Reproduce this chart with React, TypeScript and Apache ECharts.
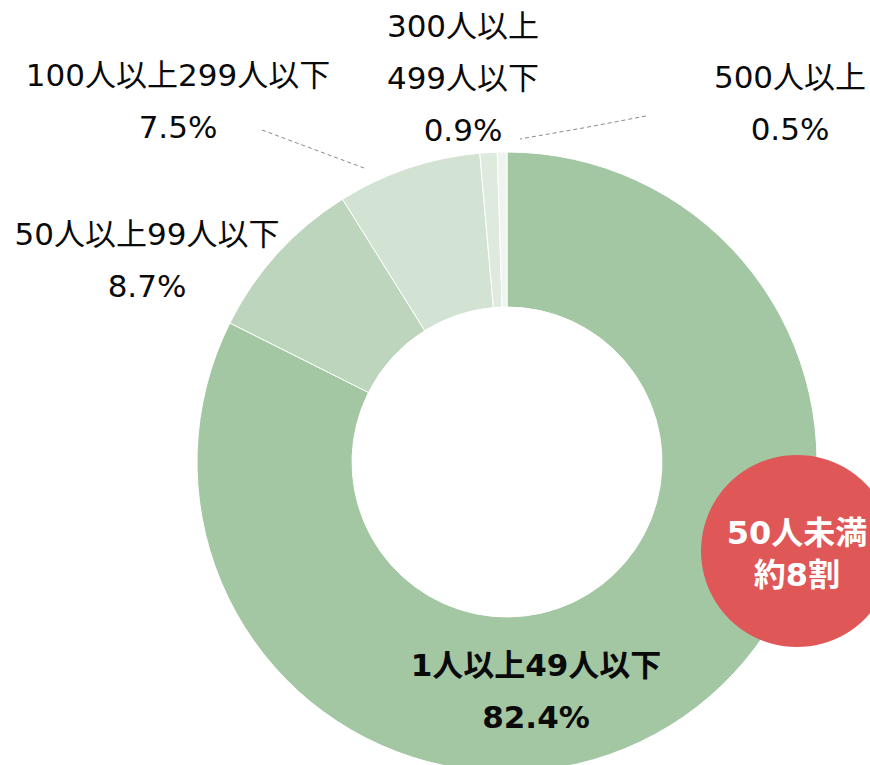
import React, { useEffect, useRef } from "react";
import * as echarts from "echarts";

const categories = [
  "1人以上49人以下",
  "50人以上99人以下",
  "100人以上299人以下",
  "300人以上499人以下",
  "500人以上",
];
const shares = [82.4, 8.7, 7.5, 0.9, 0.5];
const labelNames = [
  "1人以上49人以下",
  "50人以上99人以下",
  "100人以上299人以下",
  "300人以上\n499人以下",
  "500人以上",
];
const calloutTitle = "50人未満";
const calloutText = "約8割";

const sliceColors = ["#A3C6A3", "#BDD5BD", "#D3E3D3", "#DFEADF", "#EEF4EE"];
const labelPos: [number, number][] = [
  [536, 691],
  [147, 260],
  [178, 101],
  [463, 78],
  [790, 103],
];
const linePts: (number[][] | null)[] = [
  null,
  null,
  [[262, 130], [313, 149], [364, 168]],
  null,
  [[646, 116], [583, 128], [520, 139]],
];

const FONT = '"DejaVu Sans", "Noto Sans CJK JP", sans-serif';

export default function App() {
  const ref = useRef<HTMLDivElement>(null);
  useEffect(() => {
    document.body.style.margin = "0";
    const chart = echarts.init(ref.current!, null, { renderer: "svg" });
    chart.setOption({
      animation: false,
      backgroundColor: "#ffffff",
      series: [
        {
          type: "pie",
          center: [507, 462],
          radius: [155, 310],
          startAngle: 90,
          clockwise: true,
          silent: true,
          itemStyle: { borderColor: "#ffffff", borderWidth: 1 },
          label: {
            show: true,
            fontFamily: FONT,
            fontSize: 31,
            lineHeight: 52,
            color: "#0a0a0a",
            overflow: "none",
            width: 500,
            formatter: (p: any) => `${labelNames[p.dataIndex]}\n${p.value.toFixed(1)}%`,
          },
          labelLine: {
            show: true,
            lineStyle: { color: "#8a8a8a", width: 1, type: [4, 3] },
          },
          labelLayout: (p: any) => {
            const i = p.dataIndex;
            const res: any = {
              x: labelPos[i][0],
              y: labelPos[i][1],
              align: "center",
              verticalAlign: "middle",
            };
            if (linePts[i]) res.labelLinePoints = linePts[i];
            return res;
          },
          data: categories.map((c, i) => ({
            name: c,
            value: shares[i],
            itemStyle: { color: sliceColors[i] },
            label: i === 0 ? { fontWeight: "bold" } : {},
            labelLine: { show: !!linePts[i] },
          })),
        },
      ],
      graphic: [
        {
          type: "circle",
          shape: { cx: 797, cy: 551, r: 96 },
          style: { fill: "#E05757" },
          z: 100,
        },
        {
          type: "text",
          x: 797,
          y: 554,
          z: 101,
          style: {
            text: `${calloutTitle}\n${calloutText}`,
            fill: "#ffffff",
            font: `bold 32px ${FONT}`,
            lineHeight: 42,
            align: "center",
            verticalAlign: "middle",
          },
        },
      ],
    });
    return () => chart.dispose();
  }, []);
  return <div ref={ref} style={{ width: 870, height: 765 }} />;
}
